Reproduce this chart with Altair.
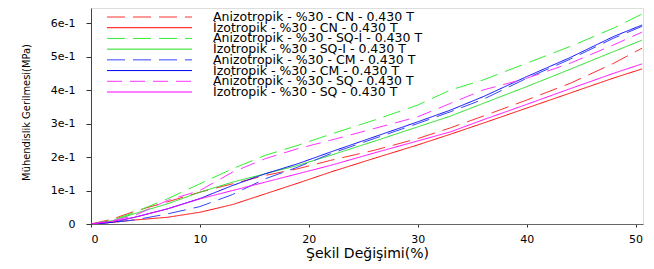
import altair as alt
import pandas as pd

# ---- data ----
x_vals = [0, 2, 4, 7, 10, 13, 16, 19, 22, 26, 30, 33, 36, 40, 44, 48, 50.6]

series_names = [
    "Anizotropik - %30 - CN - 0.430 T",
    "İzotropik - %30 - CN - 0.430 T",
    "Anizotropik - %30 - SQ-I - 0.430 T",
    "İzotropik - %30 - SQ-I - 0.430 T",
    "Anizotropik - %30 - CM - 0.430 T",
    "İzotropik - %30 - CM - 0.430 T",
    "Anizotropik - %30 - SQ - 0.430 T",
    "İzotropik - %30 - SQ - 0.430 T",
]

aniz_cn   = [0, 0.015, 0.038, 0.066, 0.095, 0.120, 0.145, 0.165, 0.190, 0.220, 0.255, 0.287, 0.322, 0.370, 0.420, 0.480, 0.525]
izo_cn    = [0, 0.005, 0.012, 0.020, 0.035, 0.058, 0.090, 0.122, 0.155, 0.196, 0.236, 0.268, 0.301, 0.346, 0.391, 0.436, 0.463]
aniz_sqi  = [0, 0.012, 0.035, 0.075, 0.120, 0.165, 0.205, 0.235, 0.268, 0.310, 0.355, 0.400, 0.430, 0.480, 0.530, 0.585, 0.627]
izo_sqi   = [0, 0.010, 0.031, 0.060, 0.095, 0.125, 0.150, 0.175, 0.205, 0.247, 0.290, 0.322, 0.360, 0.410, 0.462, 0.515, 0.549]
aniz_cm   = [0, 0.005, 0.012, 0.030, 0.052, 0.088, 0.135, 0.170, 0.210, 0.255, 0.300, 0.335, 0.372, 0.435, 0.492, 0.555, 0.590]
izo_cm    = [0, 0.005, 0.020, 0.045, 0.076, 0.115, 0.150, 0.180, 0.215, 0.260, 0.305, 0.340, 0.380, 0.440, 0.497, 0.560, 0.594]
aniz_sq   = [0, 0.010, 0.025, 0.070, 0.100, 0.155, 0.195, 0.225, 0.250, 0.285, 0.320, 0.360, 0.400, 0.435, 0.480, 0.535, 0.573]
izo_sq    = [0, 0.008, 0.020, 0.045, 0.075, 0.100, 0.125, 0.150, 0.175, 0.212, 0.248, 0.275, 0.311, 0.357, 0.404, 0.450, 0.478]

series_values = [aniz_cn, izo_cn, aniz_sqi, izo_sqi, aniz_cm, izo_cm, aniz_sq, izo_sq]
series_colors = ["#ff3030", "#ff0000", "#33ee33", "#22dd22", "#3344ff", "#0000ff", "#ff33ff", "#ff00ff"]
series_dashes = [[18, 8], [1, 0], [18, 8], [1, 0], [18, 8], [1, 0], [15, 8], [1, 0]]

y_ticks = [0, 0.1, 0.2, 0.3, 0.4, 0.5, 0.6]
x_ticks = [0, 10, 20, 30, 40, 50]

rows = []
for name, vals in zip(series_names, series_values):
    for xv, yv in zip(x_vals, vals):
        rows.append({"x": xv, "y": yv, "series": name})
df = pd.DataFrame(rows)

legend_df = pd.DataFrame({"series": series_names, "row": list(range(len(series_names)))})

FONT = "DejaVu Sans"

color_scale = alt.Scale(domain=series_names, range=series_colors)
dash_scale = alt.Scale(domain=series_names, range=series_dashes)

lines = (
    alt.Chart(df)
    .mark_line(strokeWidth=1, clip=True)
    .encode(
        x=alt.X(
            "x:Q",
            scale=alt.Scale(domain=[0, 50.68], nice=False, zero=False),
            axis=alt.Axis(
                values=x_ticks,
                title="Şekil Değişimi(%)",
                titleFont=FONT,
                titleFontSize=14,
                titleFontWeight="normal",
                titleColor="#000",
                titleBaseline="middle",
                titleY=29,
                labelFont=FONT,
                labelFontSize=11,
                labelColor="#000",
                labelPadding=6,
                tickSize=3,
                tickColor="#333",
                domainColor="#666",
                grid=False,
            ),
        ),
        y=alt.Y(
            "y:Q",
            scale=alt.Scale(domain=[0, 0.6448], nice=False),
            axis=alt.Axis(
                values=y_ticks,
                labelExpr="datum.value == 0 ? '0' : round(datum.value*10) + 'e-1'",
                title="Mühendislik Gerilmesi(MPa)",
                titleFont="Liberation Sans Narrow, DejaVu Sans Condensed, sans-serif",
                titleFontSize=11,
                titleFontWeight="normal",
                titleColor="#000",
                titleBaseline="middle",
                titleX=-65,
                titleY=104,
                labelFont=FONT,
                labelFontSize=11,
                labelColor="#000",
                labelPadding=11,
                tickSize=5,
                tickColor="#333",
                domainColor="#444",
                grid=False,
            ),
        ),
        color=alt.Color("series:N", scale=color_scale, legend=None),
        strokeDash=alt.StrokeDash("series:N", scale=dash_scale, legend=None),
        order=alt.Order("x:Q"),
    )
)

row_y = alt.Y(
    "row:O",
    scale=alt.Scale(type="point", range=[9, 84], padding=0),
    axis=None,
)

legend_rules = (
    alt.Chart(legend_df)
    .mark_rule(strokeWidth=1)
    .encode(
        x=alt.value(16),
        x2=alt.value(101),
        y=row_y,
        color=alt.Color("series:N", scale=color_scale, legend=None),
        strokeDash=alt.StrokeDash("series:N", scale=dash_scale, legend=None),
    )
)

legend_text = (
    alt.Chart(legend_df)
    .mark_text(align="left", baseline="middle", font=FONT, fontSize=12.5, color="#000")
    .encode(
        x=alt.value(122),
        y=row_y,
        text="series:N",
    )
)

chart = (
    alt.layer(lines, legend_rules, legend_text)
    .resolve_scale(y="independent")
    .properties(
        width=552,
        height=216,
        autosize=alt.AutoSizeParams(type="none"),
        padding={"left": 83, "top": 0, "right": 3, "bottom": 44},
    )
    .configure_view(stroke="#888", strokeWidth=1)
    .configure(background="white")
)

chart.save("out.html", embed_options={"renderer": "svg", "actions": False})
